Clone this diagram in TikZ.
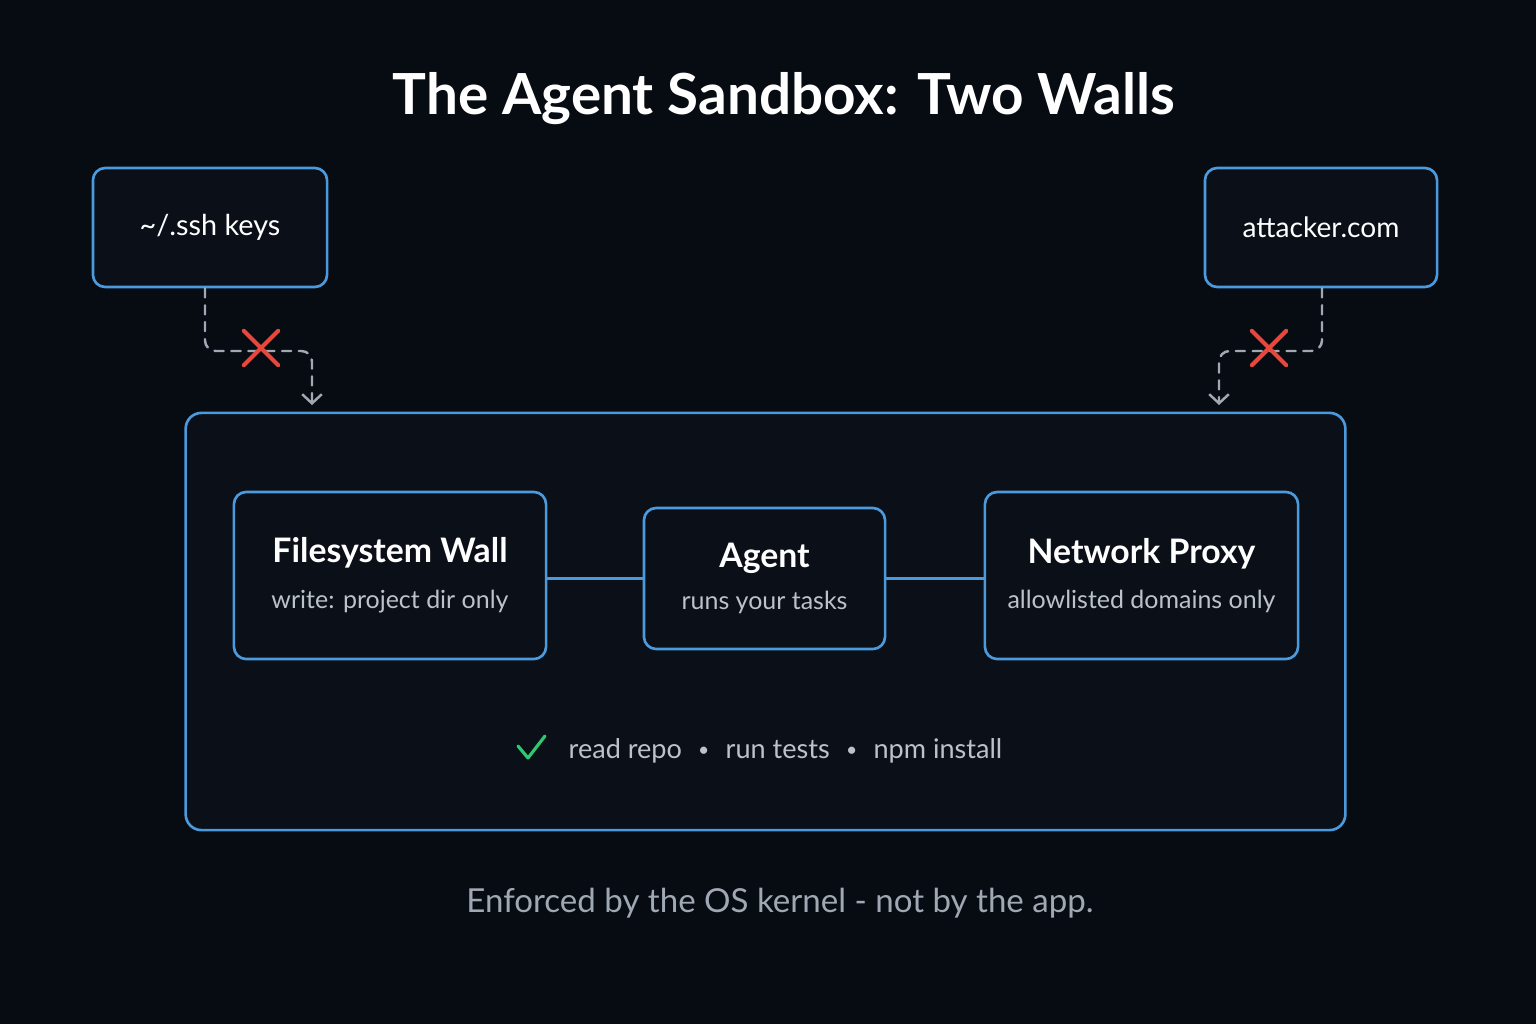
\documentclass[tikz,border=0pt]{standalone}
\usepackage{fontspec}
\setmainfont{Lato}
\usetikzlibrary{arrows.meta,shapes.misc}
\definecolor{bgdark}{RGB}{7,11,18}
\definecolor{boxfill}{RGB}{10,15,24}
\definecolor{wallblue}{RGB}{76,154,222}
\definecolor{dashgray}{RGB}{160,168,180}
\definecolor{subgray}{RGB}{188,194,204}
\definecolor{footgray}{RGB}{160,168,180}
\definecolor{crossred}{RGB}{232,72,60}
\definecolor{okgreen}{RGB}{46,200,110}
\newcommand\sepdot{\hspace{0.6em}\raisebox{0.5pt}{\fontsize{5.5pt}{6pt}\selectfont\textbullet}\hspace{0.6em}}
\begin{document}
\begin{tikzpicture}[x=0.01cm, y=-0.01cm, line join=round, line cap=round,
	wallbox/.style={draw=wallblue, fill=boxfill, line width=0.75pt, rounded corners=3.5pt, inner sep=0pt, align=center, text=white},
	blocked/.style={draw=dashgray, line width=0.7pt, dash pattern=on 2.6pt off 2.2pt, rounded corners=3pt, -{Straight Barb[length=2.6pt,width=5.6pt]}},
	link/.style={draw=wallblue, line width=0.75pt},
	xmark/.style={cross out, draw=crossred, line width=1.2pt, minimum size=0.3cm, inner sep=0pt}]
	\fill[bgdark] (0,0) rectangle (1536,1024);
	\node[font=\bfseries\fontsize{16.1pt}{19pt}\selectfont, text=white] (title) at (784,99) {The Agent Sandbox: Two Walls};
	% outside things
	\node[wallbox, minimum width=2.34cm, minimum height=1.19cm, font=\fontsize{8.2pt}{10pt}\selectfont] (ssh) at (210,227.5) {\textasciitilde/.ssh keys};
	\node[wallbox, minimum width=2.32cm, minimum height=1.19cm, font=\fontsize{8pt}{10pt}\selectfont] (attacker) at (1321,227.5) {attacker.com};
	% the sandbox
	\node[draw=wallblue, fill=boxfill, line width=0.75pt, rounded corners=4.5pt, minimum width=11.59cm, minimum height=4.17cm] (sandbox) at (765.5,621.5) {};
	\node[wallbox, minimum width=3.12cm, minimum height=1.67cm] (fs) at (390,575.5) {\fontsize{9.6pt}{12pt}\selectfont\bfseries Filesystem Wall\\[1pt]{\fontsize{7.1pt}{9pt}\selectfont\mdseries\color{subgray} write: project dir only}};
	\node[wallbox, minimum width=2.41cm, minimum height=1.41cm] (agent) at (764.5,578.5) {\fontsize{9.6pt}{12pt}\selectfont\bfseries Agent\\[0pt]{\fontsize{7.1pt}{9pt}\selectfont\mdseries\color{subgray} runs your tasks}};
	\node[wallbox, minimum width=3.13cm, minimum height=1.67cm] (proxy) at (1141.5,575.5) {\fontsize{9.6pt}{12pt}\selectfont\bfseries Network Proxy\\[1pt]{\fontsize{7.1pt}{9pt}\selectfont\mdseries\color{subgray} allowlisted domains only}};
	\draw[link] (agent.west -| fs.east) -- (agent.west);
	\draw[link] (agent.east) -- (agent.east -| proxy.west);
	% allowed actions
	\draw[okgreen, line width=0.9pt] (518,746) -- (528,758) -- (545,736);
	\node[font=\fontsize{7.7pt}{10pt}\selectfont, text=subgray, anchor=base west, inner sep=0pt] (allowed) at (568,758) {read repo\sepdot run tests\sepdot npm install};
	% blocked paths
	\coordinate (sshbend) at (312,351);
	\coordinate (sshin) at (312,405);
	\coordinate (attbend) at (1219,351);
	\coordinate (attin) at (1219,405);
	\draw[blocked] (ssh.south -| 205,0) |- (sshbend) -- (sshin);
	\draw[blocked] (attacker.south -| 1322,0) |- (attbend) -- (attin);
	\node[xmark] (xssh) at (261,348) {};
	\node[xmark] (xatt) at (1269,348) {};
	\node[font=\fontsize{9.4pt}{11pt}\selectfont, text=footgray] (note) at (780,903) {Enforced by the OS kernel - not by the app.};
\end{tikzpicture}
\end{document}
